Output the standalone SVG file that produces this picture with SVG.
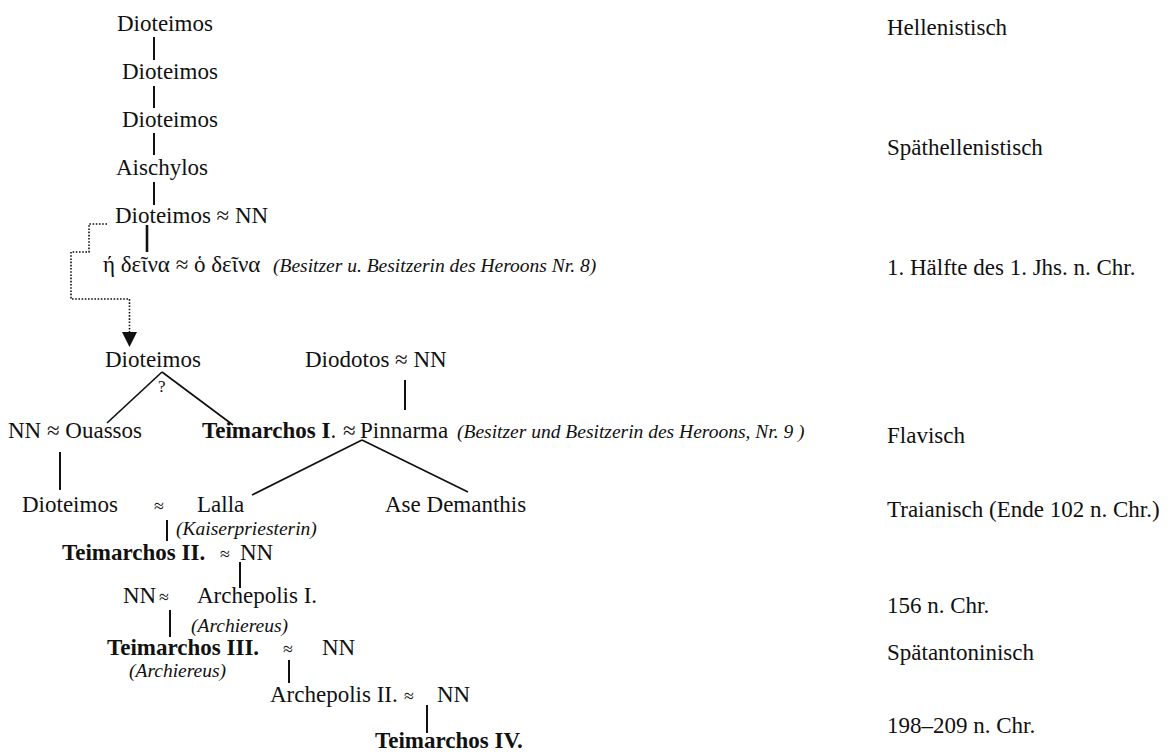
<svg xmlns="http://www.w3.org/2000/svg" width="1170" height="754" viewBox="0 0 1170 754">
<style>
text{font-family:"Liberation Serif","Times New Roman",serif;font-size:23px;fill:#111}
.b{font-weight:bold}
.i{font-style:italic;font-size:19.5px}
.q{font-size:17px}
.s{font-size:18px}
.ln{stroke:#111;stroke-width:2;fill:none}
.dg{stroke:#111;stroke-width:1.7;fill:none}
.dot{stroke:#111;stroke-width:1.6;fill:none;stroke-dasharray:1.6 1.6}
</style>
<rect width="1170" height="754" fill="#fff"/>
<g id="connectors">
<line class="ln" x1="154" y1="37" x2="154" y2="60"/>
<line class="ln" x1="154" y1="86" x2="154" y2="108"/>
<line class="ln" x1="154" y1="133" x2="154" y2="155"/>
<line class="ln" x1="154" y1="182" x2="154" y2="205"/>
<line class="ln" x1="147" y1="225" x2="147" y2="252" style="stroke-width:2.6"/>
<path class="dot" d="M107,224 H89 V252 H71 V299 H129.5 V332"/>
<path d="M122,332 L137,332 L129.5,347 Z" fill="#111"/>
<line class="dg" x1="162" y1="372" x2="107" y2="423"/>
<line class="dg" x1="162" y1="372" x2="233" y2="425"/>
<line class="ln" x1="405" y1="380" x2="405" y2="410"/>
<line class="ln" x1="60" y1="452" x2="60" y2="490"/>
<line class="dg" x1="362" y1="440" x2="252" y2="495"/>
<line class="dg" x1="362" y1="440" x2="468" y2="492"/>
<line class="ln" x1="167" y1="520" x2="167" y2="541"/>
<line class="ln" x1="240" y1="562" x2="240" y2="588"/>
<line class="ln" x1="170" y1="610" x2="170" y2="637"/>
<line class="ln" x1="289" y1="660" x2="289" y2="683"/>
<line class="ln" x1="427" y1="705" x2="427" y2="733"/>
</g>
<g id="n1"><text x="117" y="31">Dioteimos</text></g>
<g id="n2"><text x="122" y="79">Dioteimos</text></g>
<g id="n3"><text x="122" y="127">Dioteimos</text></g>
<g id="n4"><text x="116" y="175">Aischylos</text></g>
<g id="n5"><text x="115" y="223">Dioteimos ≈ NN</text></g>
<g id="n6"><text x="103" y="272">ή δεῖνα ≈ ὁ δεῖνα</text><text class="i" x="273" y="272">(Besitzer u. Besitzerin des Heroons Nr. 8)</text></g>
<g id="n7"><text x="105" y="367">Dioteimos</text><text class="q" x="158" y="392">?</text></g>
<g id="n8"><text x="305" y="367">Diodotos ≈ NN</text></g>
<g id="n9"><text x="8" y="438">NN ≈ Ouassos</text></g>
<g id="n10"><text x="202" y="438"><tspan class="b">Teimarchos I</tspan>.</text><text x="343" y="438">≈</text><text x="360" y="438">Pinnarma</text><text class="i" x="457" y="438">(Besitzer und Besitzerin des Heroons, Nr. 9 )</text></g>
<g id="n11"><text x="22" y="512">Dioteimos</text><text class="s" x="154" y="512">≈</text><text x="197" y="512">Lalla</text><text class="i" x="176" y="535">(Kaiserpriesterin)</text></g>
<g id="n12"><text x="385" y="512">Ase Demanthis</text></g>
<g id="n13"><text class="b" x="62" y="560">Teimarchos II.</text><text class="s" x="220" y="560">≈</text><text x="240" y="560">NN</text></g>
<g id="n14"><text x="123" y="603">NN</text><text class="s" x="159" y="603">≈</text><text x="197" y="603">Archepolis I.</text><text class="i" x="191" y="632">(Archiereus)</text></g>
<g id="n15"><text class="b" x="107" y="655">Teimarchos III.</text><text class="s" x="283" y="655">≈</text><text x="322" y="655">NN</text><text class="i" x="129" y="677">(Archiereus)</text></g>
<g id="n16"><text x="270" y="702">Archepolis II.</text><text class="s" x="404" y="702">≈</text><text x="437" y="702">NN</text></g>
<g id="n17"><text class="b" x="375" y="748">Teimarchos IV.</text></g>
<g id="periods">
<text x="887" y="35">Hellenistisch</text>
<text x="887" y="155">Späthellenistisch</text>
<text x="887" y="275">1. Hälfte des 1. Jhs. n. Chr.</text>
<text x="887" y="443">Flavisch</text>
<text x="887" y="517">Traianisch (Ende 102 n. Chr.)</text>
<text x="887" y="613">156 n. Chr.</text>
<text x="887" y="660">Spätantoninisch</text>
<text x="887" y="733">198–209 n. Chr.</text>
</g>
</svg>
